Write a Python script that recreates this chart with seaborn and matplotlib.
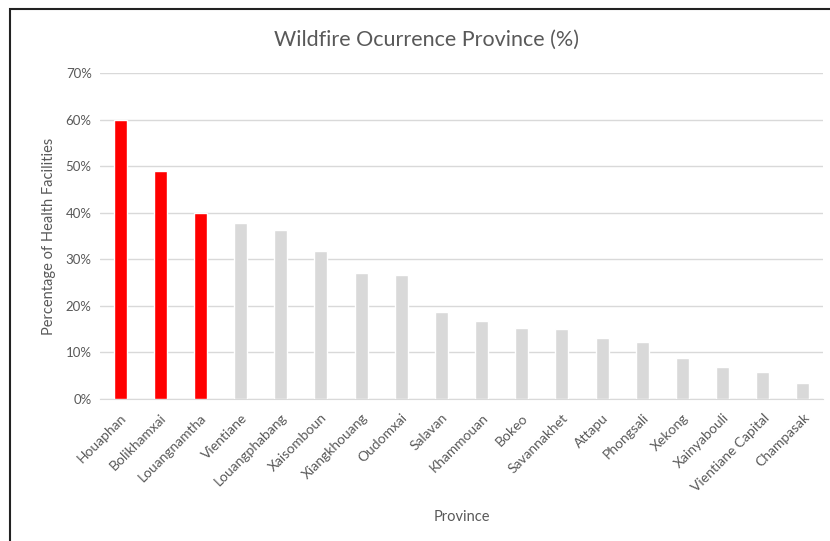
import pandas as pd
import seaborn as sns
import matplotlib.pyplot as plt
from matplotlib.patches import Rectangle
from matplotlib.ticker import PercentFormatter

# Data
provinces = ["Houaphan", "Bolikhamxai", "Louangnamtha", "Vientiane", "Louangphabang",
             "Xaisomboun", "Xiangkhouang", "Oudomxai", "Salavan", "Khammouan", "Bokeo",
             "Savannakhet", "Attapu", "Phongsali", "Xekong", "Xainyabouli",
             "Vientiane Capital", "Champasak"]
percent = [0.600, 0.490, 0.400, 0.379, 0.364, 0.318, 0.270, 0.266, 0.188, 0.168,
           0.152, 0.150, 0.132, 0.122, 0.088, 0.069, 0.059, 0.034]
highlight = ["High"] * 3 + ["Other"] * 15

df = pd.DataFrame({"Province": provinces, "Percent": percent, "Group": highlight})

sns.set_style("white")
plt.rcParams["font.family"] = ["Lato", "DejaVu Sans"]
text_col = "#595959"

fig = plt.figure(figsize=(8.3, 5.41), dpi=100)
ax = fig.add_axes([100 / 830, 1 - 399 / 541, 723 / 830, (399 - 73.3) / 541])

sns.barplot(data=df, x="Province", y="Percent", hue="Group",
            palette={"High": "#ff0000", "Other": "#d9d9d9"}, saturation=1,
            width=0.32, dodge=False, legend=False, ax=ax, zorder=3)

ax.set_ylim(0, 0.70)
ax.set_yticks([i / 10 for i in range(8)])
ax.yaxis.set_major_formatter(PercentFormatter(1.0, decimals=0))
ax.grid(axis="y", color="#d9d9d9", linewidth=1, zorder=0)
ax.set_axisbelow(True)
for s in ["top", "right", "left"]:
    ax.spines[s].set_visible(False)
ax.spines["bottom"].set_color("#d9d9d9")
ax.tick_params(axis="y", length=0, colors=text_col, labelsize=9.5, pad=6)
ax.tick_params(axis="x", length=0, colors=text_col, labelsize=10, pad=9)
ax.set_xlim(-0.5, len(provinces) - 0.5)
plt.setp(ax.get_xticklabels(), rotation=45, ha="right", rotation_mode="anchor")

fig.text(426 / 830, 1 - 40 / 541, "Wildfire Ocurrence Province (%)", color=text_col,
         fontsize=15.5, ha="center", va="center")
ax.set_xlabel("Province", color=text_col, fontsize=10.5, labelpad=12)
ax.set_ylabel("Percentage of Health Facilities", color=text_col, fontsize=10.5, labelpad=7)

# chart frame (cropped at right and bottom in the reference)
fig.patches.append(Rectangle((10 / 830, -0.1), 1.2, 1 - 9 / 541 + 0.1,
                             transform=fig.transFigure, fill=False,
                             edgecolor="#222222", linewidth=1.5))

plt.savefig("out.png", dpi=100)
